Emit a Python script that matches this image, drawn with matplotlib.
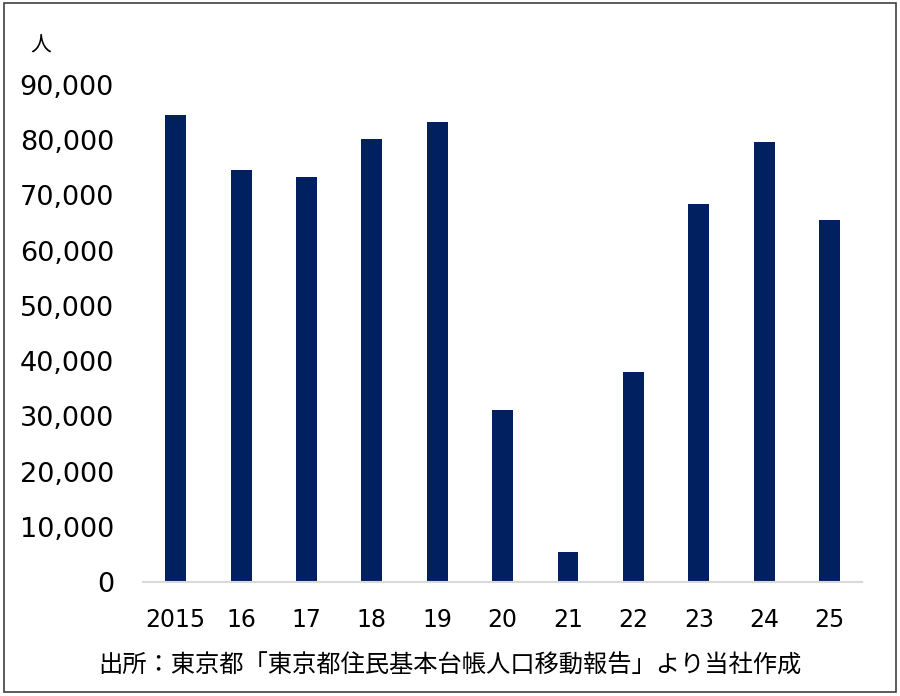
import numpy as np
import matplotlib.pyplot as plt
from matplotlib.patches import Rectangle

plt.rcParams['font.family'] = ['DejaVu Sans', 'Noto Sans CJK JP']

# Data
years = ['2015', '16', '17', '18', '19', '20', '21', '22', '23', '24', '25']
people = [84600, 74600, 73300, 80200, 83300, 31100, 5400, 38000, 68500, 79700, 65600]

fig = plt.figure(figsize=(9, 6.96), dpi=100)
ax = fig.add_axes([0.159, 0.1638, 0.799, 0.714])

x = np.arange(len(years))
ax.bar(x, people, width=0.32, color='#002060')

ax.set_xlim(-0.5, len(years) - 0.5)
ax.set_ylim(0, 90000)
ax.set_yticks(np.arange(0, 90001, 10000))
ax.set_yticklabels([f'{v:,}' for v in range(0, 90001, 10000)], fontsize=19.5)
ax.set_xticks(x)
ax.set_xticklabels(years, fontsize=17)
ax.tick_params(axis='y', length=0, pad=21)
ax.tick_params(axis='x', length=0, pad=19)

for s in ['top', 'right', 'left']:
    ax.spines[s].set_visible(False)
ax.spines['bottom'].set_color('#d9d9d9')
ax.spines['bottom'].set_linewidth(1.5)

cjk = ['Noto Sans CJK JP', 'DejaVu Sans']
fig.text(0.045, 0.935, '人', fontsize=15, ha='center', va='center', family=cjk)
fig.text(0.5, 0.043, '出所：東京都「東京都住民基本台帳人口移動報告」より当社作成',
         fontsize=17.5, ha='center', va='center', family=cjk)

fig.patches.append(Rectangle((0.004, 0.006), 0.992, 0.99, transform=fig.transFigure,
                             fill=False, edgecolor='#404040', linewidth=1.2))

fig.savefig('out.png', dpi=100)
